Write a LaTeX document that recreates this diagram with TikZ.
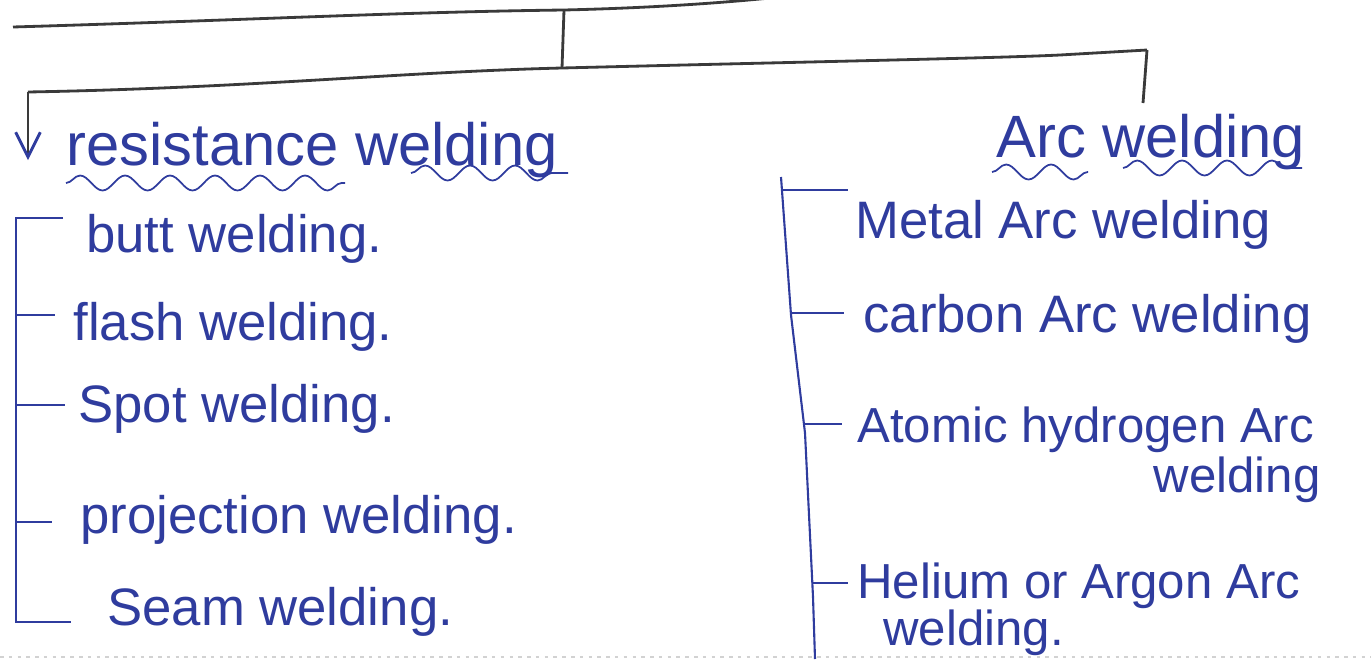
\documentclass[tikz,border=0pt]{standalone}
\usepackage{fontspec}
\setmainfont{Liberation Sans}
\usetikzlibrary{decorations.pathmorphing, arrows.meta, positioning, calc}

\begin{document}
\begin{tikzpicture}[x=0.02cm, y=-0.02cm]
% --- CORES, ESTILOS E MOLDURA ---
\definecolor{tinta}{HTML}{2F3C9E}
\definecolor{lapis}{HTML}{3A3A3A}
\tikzset{
  item/.style={anchor=base west, inner sep=0pt, text=tinta, font=\fontsize{30}{36}\selectfont},
  itemmenor/.style={item, font=\fontsize{28}{34}\selectfont},
  titulo/.style={item, font=\fontsize{34}{40}\selectfont},
  chave/.style={line width=1.2pt, color=tinta},
  ondas/.style={decorate, decoration={snake, segment length=0.9cm, amplitude=0.15cm}, line width=1pt, color=tinta},
  ramo/.style={line width=1.6pt, color=lapis}
}
\useasboundingbox (0,0) rectangle (1371,659);

% LAYER 1: Ramos superiores (lapis)
\coordinate (raiz) at (564,10);
\coordinate (divisao) at (562,68);
\coordinate (esq) at (28,92);
\coordinate (seta) at (28,160);
\coordinate (dir) at (1147,50);
\coordinate (dirfim) at (1143,103);
\draw[ramo] (13,27) .. controls (250,20) and (400,12) .. (raiz) .. controls (650,8) and (720,3) .. (770,-2);
\draw[ramo] (raiz) -- (divisao);
\draw[ramo] (esq) .. controls (250,88) and (400,72) .. (divisao) .. controls (800,62) and (1000,58) .. (1060,55) -- (dir);
\draw[ramo, -{Straight Barb[length=14pt, width=14pt, color=tinta]}] (esq) -- (seta);
\draw[ramo] (dir) -- (dirfim);

% LAYER 2: Titulos com sublinhado ondulado
\node[titulo] (resist) at (66,165) {resistance welding};
\node[titulo] (arco) at (996,157) {Arc welding};
\draw[ondas] (66,183) -- (345,183);
\draw[ondas] (411,173) -- (568,173);
\draw[ondas] (992,172) -- (1088,172);
\draw[ondas] (1123,168) -- (1302,168);

% LAYER 3: Lista da esquerda
\node[item] (butt) at (86,252) {butt welding.};
\node[item] (flash) at (73,340) {flash welding.};
\node[item] (spot) at (78,422) {Spot welding.};
\node[item] (proj) at (80,533) {projection welding.};
\node[item] (seam) at (107,625) {Seam welding.};
\draw[chave] (63,218) -- (16,218) -- (16,622) -- (71,622);
\foreach \y/\fim in {315/55, 405/65, 522/52}
  \draw[chave] (16,\y) -- (\fim,\y);

% LAYER 4: Lista da direita
\node[item] (metal) at (855,238) {Metal Arc welding};
\node[item] (carbono) at (863,332) {carbon Arc welding};
\node[itemmenor] (atomico) at (857,442) {Atomic hydrogen Arc};
\node[itemmenor, anchor=base east] (atomico2) at (1321,492) {welding};
\node[itemmenor] (helio) at (857,598) {Helium or Argon Arc};
\node[itemmenor] (helio2) at (883,645) {welding.};
\draw[chave] (781,177) -- (791,315) -- (805,433) -- (813,597) -- (815,659);
\foreach \x/\y/\fim in {782/190/848, 791/313/844, 804/424/842, 812/583/848}
  \draw[chave] (\x,\y) -- (\fim,\y);

% borda da folha
\draw[gray!35, dash pattern=on 2pt off 3pt, line width=1pt] (0,657) -- (1371,657);
\end{tikzpicture}
\end{document}
